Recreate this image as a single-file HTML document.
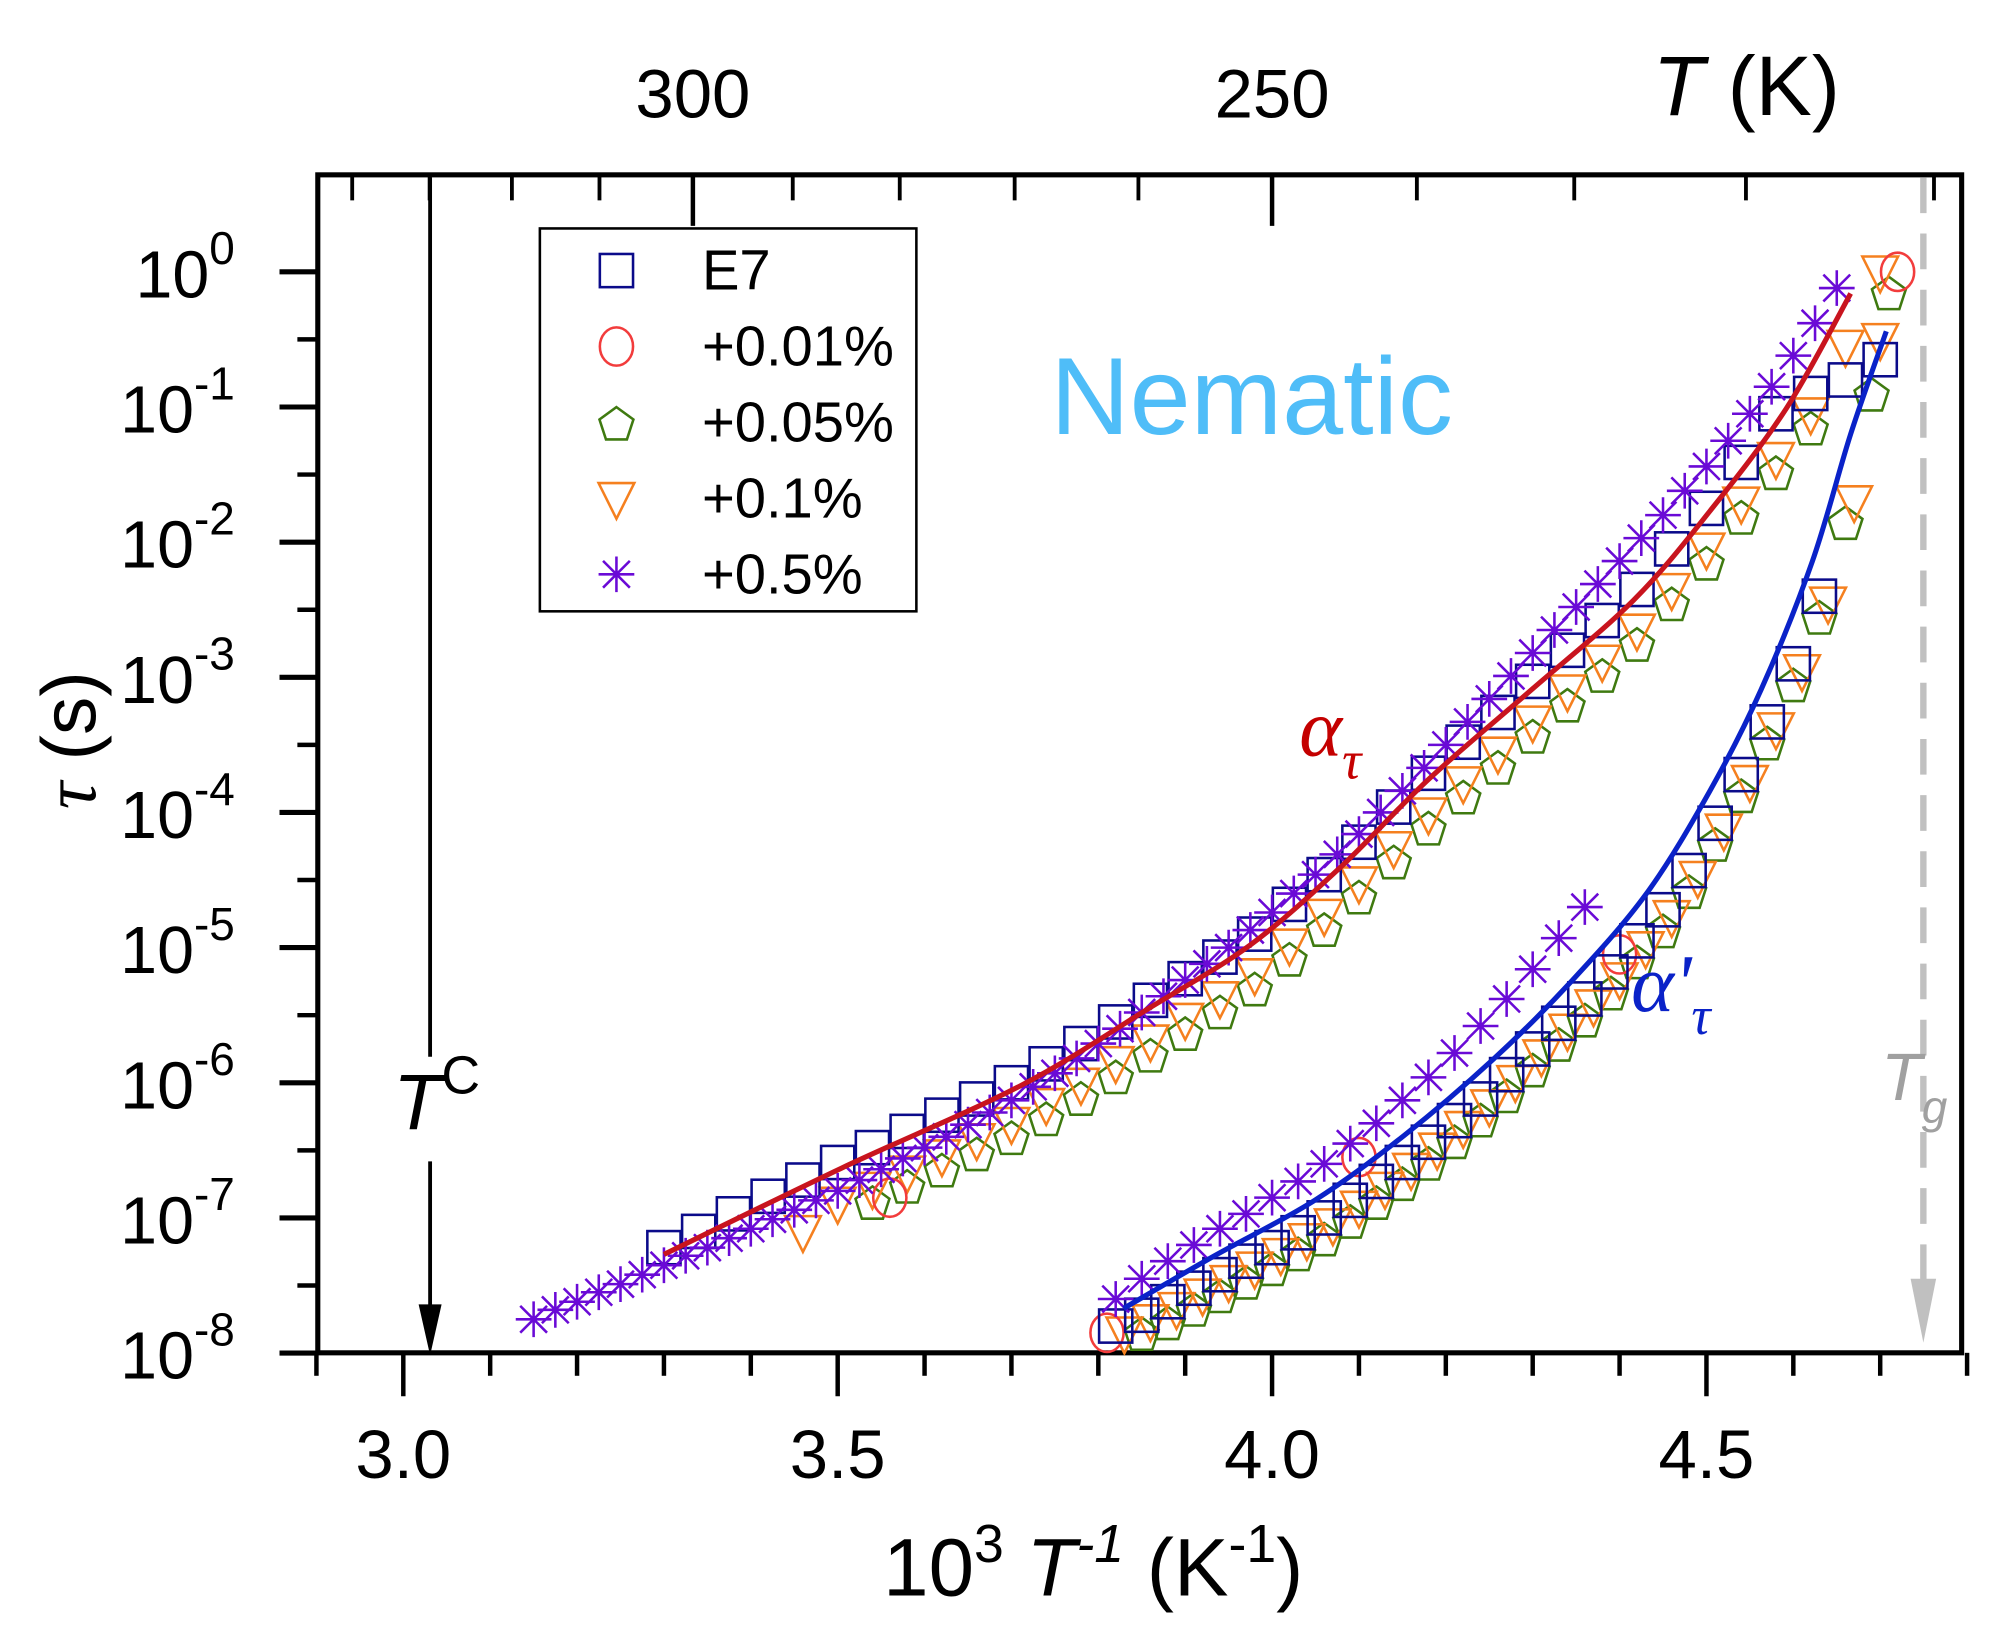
<!DOCTYPE html>
<html><head><meta charset="utf-8">
<style>
html,body{margin:0;padding:0;background:#fff;}
svg{display:block;font-family:"Liberation Sans",Arial,sans-serif;}
</style></head>
<body>
<svg id="chart" width="1991" height="1629" viewBox="0 0 1560 1276.4" preserveAspectRatio="none" xmlns="http://www.w3.org/2000/svg">
<g id="axes"></g>
<g id="marks"></g>
<g id="fits"></g>
<g id="ann">
  <text x="823" y="340" font-size="86" fill="#4fbdf8">Nematic</text>
  <text x="1018" y="592" font-size="64" fill="#c40000" font-family="Liberation Serif,serif" font-style="italic">α<tspan font-size="42" dy="18">τ</tspan></text>
  <text x="1278" y="792" font-size="64" fill="#0a22c8" font-family="Liberation Serif,serif" font-style="italic">α'<tspan font-size="42" dy="18">τ</tspan></text>
  <text x="308" y="885" font-size="62" font-style="italic">T<tspan font-size="42" dy="-28" font-style="normal">C</tspan></text>
  <line x1="337" y1="139" x2="337" y2="828" stroke="#000" stroke-width="3"/>
  <line x1="337" y1="910" x2="337" y2="1030" stroke="#000" stroke-width="3"/>
  <polygon points="328,1022 346,1022 337,1062" fill="#000"/>
  <line x1="1507" y1="139" x2="1507" y2="1010" stroke="#c0c0c0" stroke-width="5" stroke-dasharray="28,16"/>
  <polygon points="1497,1002 1517,1002 1507,1052" fill="#c0c0c0"/>
  <text x="1474" y="862" font-size="52" fill="#a0a0a0" font-style="italic">T<tspan font-size="36" dy="18">g</tspan></text>
</g>
<g id="legend">
  <rect x="423" y="179" width="295" height="300" fill="#fff" stroke="#000" stroke-width="2"/>
</g>
<g id="labels">
  <text x="692" y="1250" font-size="64">10<tspan font-size="42" dy="-26">3</tspan><tspan dy="26" font-style="italic"> T</tspan><tspan font-size="42" dy="-26" font-style="italic">-1</tspan><tspan dy="26">  (K</tspan><tspan font-size="42" dy="-26">-1</tspan><tspan dy="26">)</tspan></text>
  <text x="1295" y="90" font-size="66"><tspan font-style="italic">T</tspan>  (K)</text>
  <text transform="translate(75,580) rotate(-90)" text-anchor="middle" font-size="60"><tspan font-style="italic" font-family="Liberation Serif,serif">τ</tspan> (s)</text>
</g>
</svg>
<script>
// ---- data (x = 1000/T, y = log10 tau) ----
const xTicks = [3.0, 3.5, 4.0, 4.5];
const xTickLabels = ["3.0", "3.5", "4.0", "4.5"];
const yDecades = [0, -1, -2, -3, -4, -5, -6, -7, -8];
const topTicksK = [300, 250];
const topMinorK = [340, 330, 320, 310, 290, 280, 270, 260, 240, 230, 220, 210];
const seriesNames = ["E7", "+0.01%", "+0.05%", "+0.1%", "+0.5%"];

// +0.5% (stars), branch 1 and branch 2
const c05X1 = [3.150,3.175,3.200,3.225,3.250,3.275,3.300,3.325,3.350,3.375,3.400,3.425,3.450,3.475,3.500,3.525,3.550,3.575,3.600,3.625,3.650,3.675,3.700,3.725,3.750,3.775,3.800,3.825,3.850,3.875,3.900,3.925,3.950,3.975,4.000,4.025,4.050,4.075,4.100,4.125,4.150,4.175,4.200,4.225,4.250,4.275,4.300,4.325,4.350,4.375,4.400,4.425,4.450,4.475,4.500,4.525,4.550,4.575,4.600,4.625,4.650];
const c05Y1 = [-7.75,-7.68,-7.62,-7.55,-7.49,-7.42,-7.35,-7.28,-7.22,-7.15,-7.08,-7.01,-6.94,-6.87,-6.80,-6.72,-6.64,-6.56,-6.48,-6.40,-6.31,-6.22,-6.13,-6.03,-5.93,-5.82,-5.71,-5.60,-5.48,-5.36,-5.24,-5.12,-5.00,-4.87,-4.74,-4.60,-4.46,-4.31,-4.16,-4.00,-3.84,-3.67,-3.50,-3.33,-3.16,-2.99,-2.82,-2.65,-2.48,-2.31,-2.14,-1.97,-1.80,-1.62,-1.44,-1.25,-1.05,-0.85,-0.62,-0.38,-0.12];
const c05X2 = [3.82,3.85,3.88,3.91,3.94,3.97,4.00,4.03,4.06,4.09,4.12,4.15,4.18,4.21,4.24,4.27,4.30,4.33,4.36];
const c05Y2 = [-7.60,-7.45,-7.32,-7.20,-7.08,-6.97,-6.85,-6.73,-6.60,-6.45,-6.30,-6.13,-5.96,-5.78,-5.58,-5.38,-5.16,-4.93,-4.70];

// E7 (squares)
const e7X1 = [3.30,3.34,3.38,3.42,3.46,3.50,3.54,3.58,3.62,3.66,3.70,3.74,3.78,3.82,3.86,3.90,3.94,3.98,4.02,4.06,4.10,4.14,4.18,4.22,4.26,4.30,4.34,4.38,4.42,4.46,4.50,4.54,4.58,4.62,4.66,4.70];
const e7Y1 = [-7.22,-7.10,-6.97,-6.84,-6.72,-6.59,-6.48,-6.36,-6.24,-6.12,-6.00,-5.86,-5.71,-5.55,-5.39,-5.23,-5.07,-4.90,-4.68,-4.46,-4.22,-3.96,-3.71,-3.48,-3.26,-3.03,-2.80,-2.58,-2.35,-2.05,-1.75,-1.41,-1.05,-0.90,-0.80,-0.65];
const e7X2 = [3.82,3.85,3.88,3.91,3.94,3.97,4.00,4.03,4.06,4.09,4.12,4.15,4.18,4.21,4.24,4.27,4.30,4.33,4.36,4.39,4.42,4.45,4.48,4.51,4.54,4.57,4.60,4.63];
const e7Y2 = [-7.80,-7.72,-7.62,-7.52,-7.42,-7.32,-7.22,-7.11,-7.00,-6.87,-6.73,-6.59,-6.44,-6.28,-6.12,-5.94,-5.75,-5.56,-5.38,-5.18,-4.95,-4.72,-4.43,-4.08,-3.72,-3.33,-2.90,-2.40];

// +0.1% (down triangles)
const c01X1 = [3.46,3.50,3.54,3.58,3.62,3.66,3.70,3.74,3.78,3.82,3.86,3.90,3.94,3.98,4.02,4.06,4.10,4.14,4.18,4.22,4.26,4.30,4.34,4.38,4.42,4.46,4.50,4.54,4.58,4.62,4.66,4.70];
const c01Y1 = [-7.10,-6.89,-6.78,-6.66,-6.54,-6.42,-6.30,-6.16,-6.01,-5.85,-5.69,-5.53,-5.37,-5.20,-4.98,-4.76,-4.52,-4.26,-4.01,-3.78,-3.56,-3.33,-3.10,-2.88,-2.65,-2.35,-2.05,-1.71,-1.38,-1.05,-0.55,0.00];
const c01X2 = [3.83,3.86,3.89,3.92,3.95,3.98,4.01,4.04,4.07,4.10,4.13,4.16,4.19,4.22,4.25,4.28,4.31,4.34,4.37,4.40,4.43,4.46,4.49,4.52,4.55,4.58,4.61,4.64,4.67,4.70];
const c01Y2 = [-7.85,-7.76,-7.67,-7.57,-7.47,-7.37,-7.27,-7.16,-7.05,-6.92,-6.78,-6.64,-6.49,-6.33,-6.17,-5.99,-5.80,-5.61,-5.43,-5.23,-5.00,-4.77,-4.48,-4.13,-3.77,-3.38,-2.95,-2.45,-1.70,-0.50];

// +0.05% (pentagons)
const c005X1 = [3.54,3.58,3.62,3.66,3.70,3.74,3.78,3.82,3.86,3.90,3.94,3.98,4.02,4.06,4.10,4.14,4.18,4.22,4.26,4.30,4.34,4.38,4.42,4.46,4.50,4.54,4.58,4.62,4.71];
const c005Y1 = [-6.88,-6.76,-6.64,-6.52,-6.40,-6.26,-6.11,-5.95,-5.79,-5.63,-5.47,-5.30,-5.08,-4.86,-4.62,-4.36,-4.11,-3.88,-3.66,-3.43,-3.20,-2.98,-2.75,-2.45,-2.15,-1.81,-1.48,-1.15,-0.15];
const c005X2 = [3.85,3.88,3.91,3.94,3.97,4.00,4.03,4.06,4.09,4.12,4.15,4.18,4.21,4.24,4.27,4.30,4.33,4.36,4.39,4.42,4.45,4.48,4.51,4.54,4.57,4.60,4.63,4.66,4.69];
const c005Y2 = [-7.85,-7.77,-7.67,-7.57,-7.47,-7.37,-7.26,-7.15,-7.02,-6.88,-6.74,-6.59,-6.43,-6.27,-6.09,-5.90,-5.71,-5.53,-5.33,-5.10,-4.87,-4.58,-4.23,-3.87,-3.48,-3.05,-2.55,-1.85,-0.90];

// +0.01% (circles, mostly hidden)
const c001X = [3.81,3.56,4.72,4.10,4.40];
const c001Y = [-7.85,-6.85,0.0,-6.55,-5.05];

// fits
const fitAX = [3.30,3.505,3.711,3.858,3.975,4.078,4.181,4.299,4.416,4.504,4.592,4.666];
const fitAY = [-7.27,-6.63,-6.02,-5.45,-4.98,-4.41,-3.75,-3.09,-2.43,-1.77,-1.01,-0.16];
const fitBX = [3.829,3.931,4.049,4.152,4.254,4.343,4.431,4.504,4.563,4.622,4.666,4.707];
const fitBY = [-7.67,-7.29,-6.87,-6.39,-5.83,-5.26,-4.60,-3.84,-3.09,-2.14,-1.20,-0.44];

// ---- scales ----
const PL = 249, PR = 1537, PT = 137, PB = 1060;
function sx(v){ return 316 + (v - 3.0) * 680.7; }
function sy(v){ return 213 + (0 - v) * 105.9; }
const NS = "http://www.w3.org/2000/svg";
function mk(tag, attrs, parent){ const e = document.createElementNS(NS, tag); for (const k in attrs) e.setAttribute(k, attrs[k]); parent.appendChild(e); return e; }

const axes = document.getElementById('axes');
let f = mk('rect', {x:PL, y:PT, width:PR-PL, height:PB-PT, fill:'none', stroke:'#000', 'stroke-width':4}, axes);


for (let i = 0; i <= 19; i++) {
  const v = 2.9 + i * 0.1;
  const major = Math.abs((v * 2) - Math.round(v * 2)) < 1e-6;
  const t = mk('line', {x1:sx(v), x2:sx(v), y1:PB, y2:PB + (major ? 34 : 18), stroke:'#000', 'stroke-width':3.5}, axes);
  
  
}
xTicks.forEach((v, i) => {
  const t = mk('text', {x:sx(v), y:1158, 'text-anchor':'middle', 'font-size':54}, axes);
  t.textContent = xTickLabels[i];
  
  
});
topTicksK.forEach(k => {
  const x = sx(1000 / k);
  const t = mk('line', {x1:x, x2:x, y1:PT, y2:PT + 40, stroke:'#000', 'stroke-width':3.5}, axes);
  
  
  const l = mk('text', {x:x, y:92, 'text-anchor':'middle', 'font-size':54}, axes);
  l.textContent = String(k);
  
  
});
topMinorK.forEach(k => {
  const x = sx(1000 / k);
  const t = mk('line', {x1:x, x2:x, y1:PT, y2:PT + 20, stroke:'#000', 'stroke-width':3}, axes);
  
  
});
yDecades.forEach(d => {
  const y = sy(d);
  const t = mk('line', {x1:PL - 30, x2:PL, y1:y, y2:y, stroke:'#000', 'stroke-width':4}, axes);
  
  
  if (d > -8) {
    const m = mk('line', {x1:PL - 16, x2:PL, y1:sy(d - 0.5), y2:sy(d - 0.5), stroke:'#000', 'stroke-width':3.5}, axes);
    
    
  }
  const l = mk('text', {x:184, y:y + 20, 'text-anchor':'end', 'font-size':52}, axes);
  l.textContent = '10';
  const s = mk('tspan', {'font-size':36, dy:-26}, l);
  s.textContent = d === 0 ? '0' : '-' + (-d);
  
  
});

// ---- markers ----
const marks = document.getElementById('marks');
const R = 14;
function marker(type, cx, cy, parent, color){
  let e;
  if (type === 'square') e = mk('rect', {x:cx-R+1, y:cy-R+1, width:2*R-2, height:2*R-2}, parent);
  else if (type === 'circle') e = mk('ellipse', {cx:cx, cy:cy, rx:R-1, ry:R+1}, parent);
  else if (type === 'pentagon') { let p=[]; for (let k=0;k<5;k++){ const a=-Math.PI/2+k*2*Math.PI/5; p.push((cx+R*Math.cos(a)).toFixed(1)+','+(cy+2+R*Math.sin(a)).toFixed(1)); } e = mk('polygon', {points:p.join(' ')}, parent); }
  else if (type === 'triangle') e = mk('polygon', {points:`${cx-R},${cy-R+2} ${cx+R},${cy-R+2} ${cx},${cy+R+2}`}, parent);
  else { e = mk('path', {d:`M${cx-R},${cy}H${cx+R}M${cx},${cy-R}V${cy+R}M${cx-R*0.75},${cy-R*0.75}L${cx+R*0.75},${cy+R*0.75}M${cx-R*0.75},${cy+R*0.75}L${cx+R*0.75},${cy-R*0.75}`}, parent); }
  e.setAttribute('fill', 'none');
  e.setAttribute('stroke', color);
  e.setAttribute('stroke-width', 2);
  return e;
}
const series = [
  {xs:c005X1, ys:c005Y1, t:'pentagon', c:'#3f7a10', n:'series-0-05pct-point'},
  {xs:c005X2, ys:c005Y2, t:'pentagon', c:'#3f7a10', n:'series-0-05pct-point'},
  {xs:c01X1, ys:c01Y1, t:'triangle', c:'#f5801f', n:'series-0-1pct-point'},
  {xs:c01X2, ys:c01Y2, t:'triangle', c:'#f5801f', n:'series-0-1pct-point'},
  {xs:c001X, ys:c001Y, t:'circle', c:'#f23c3c', n:'series-0-01pct-point'},
  {xs:e7X1, ys:e7Y1, t:'square', c:'#0b0b8a', n:'series-e7-point'},
  {xs:e7X2, ys:e7Y2, t:'square', c:'#0b0b8a', n:'series-e7-point'},
  {xs:c05X1, ys:c05Y1, t:'star', c:'#6a0ad6', n:'series-0-5pct-point'},
  {xs:c05X2, ys:c05Y2, t:'star', c:'#6a0ad6', n:'series-0-5pct-point'}
];
series.forEach(s => {
  s.xs.forEach((v, i) => {
    const e = marker(s.t, sx(v), sy(s.ys[i]), marks, s.c);
    
    
  });
});

// ---- fits ----
const fits = document.getElementById('fits');
function curve(xs, ys, color, name){
  const pts = xs.map((v, i) => [sx(v), sy(ys[i])]);
  let d = 'M' + pts[0][0] + ',' + pts[0][1];
  for (let i = 0; i < pts.length - 1; i++) {
    const p0 = pts[Math.max(0, i-1)], p1 = pts[i], p2 = pts[i+1], p3 = pts[Math.min(pts.length-1, i+2)];
    d += ` C${p1[0]+(p2[0]-p0[0])/6},${p1[1]+(p2[1]-p0[1])/6} ${p2[0]-(p3[0]-p1[0])/6},${p2[1]-(p3[1]-p1[1])/6} ${p2[0]},${p2[1]}`;
  }
  const e = mk('path', {d:d, fill:'none', stroke:color, 'stroke-width':4}, fits);
  
  
}
curve(fitAX, fitAY, '#c8141e', 'alpha-tau-fit');
curve(fitBX, fitBY, '#0a22c8', 'alpha-prime-tau-fit');

// ---- legend ----
const lg = document.getElementById('legend');
const legTypes = [['square','#0b0b8a'],['circle','#f23c3c'],['pentagon','#3f7a10'],['triangle','#f5801f'],['star','#6a0ad6']];
seriesNames.forEach((n, i) => {
  const y = 212 + i * 59.5;
  const m = marker(legTypes[i][0], 483, y, lg, legTypes[i][1]);
  
  
  const t = mk('text', {x:550, y:y + 15, 'font-size':44}, lg);
  t.textContent = n;
  
  
});
</script>
</body></html>
